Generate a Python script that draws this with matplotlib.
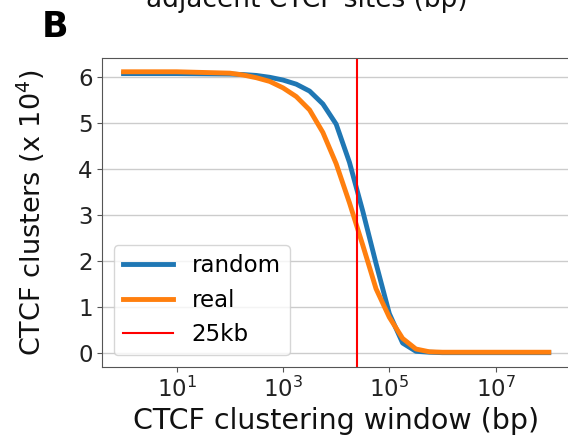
import matplotlib
matplotlib.use("Agg")
import matplotlib.pyplot as plt
from matplotlib.ticker import FixedLocator, NullLocator, LogFormatterMathtext

# clustering windows (bp), quarter-decade steps through the drop-off
window_bp = [1, 10, 100, 178, 316, 562,
             1000, 1778, 3162, 5623,
             10000, 17783, 31623, 56234,
             100000, 177828, 316228, 562341,
             1e6, 1e7, 1e8]

# number of clusters, in units of 10^4
random_clusters = [6.08, 6.08, 6.07, 6.06, 6.04, 6.00,
                   5.94, 5.85, 5.70, 5.42,
                   4.98, 4.15, 3.09, 1.95,
                   0.86, 0.22, 0.04, 0.02,
                   0.01, 0.01, 0.01]
real_clusters = [6.12, 6.12, 6.09, 6.05, 5.99, 5.91,
                 5.77, 5.58, 5.29, 4.80,
                 4.12, 3.27, 2.35, 1.40,
                 0.78, 0.32, 0.09, 0.03,
                 0.02, 0.02, 0.02]

cutoff_bp = 25000
cutoff_label = "25kb"

fig = plt.figure(figsize=(5.68, 4.36), dpi=100)
ax = fig.add_axes([0.1801, 0.1589, 0.8235, 0.7087])

ax.plot(window_bp, random_clusters, color="#1f77b4", lw=3.5, label="random")
ax.plot(window_bp, real_clusters, color="#ff7f0e", lw=3.5, label="real")
ax.axvline(cutoff_bp, color="red", lw=1.5, label=cutoff_label)

ax.set_xscale("log")
ax.xaxis.set_major_locator(FixedLocator([1e1, 1e3, 1e5, 1e7]))
ax.xaxis.set_major_formatter(LogFormatterMathtext())
ax.xaxis.set_minor_locator(NullLocator())
ax.set_yticks([0, 1, 2, 3, 4, 5, 6])

ax.grid(axis="y", color="#cccccc", lw=1.0)
ax.set_axisbelow(True)
for side in ["left", "bottom", "top", "right"]:
    ax.spines[side].set_color("#555555")
ax.tick_params(labelsize=16.5, colors="#555555", labelcolor="#222222")

ax.set_xlabel("CTCF clustering window (bp)", fontsize=20.5, color="#111111")
ax.set_ylabel(r"CTCF clusters (x $10^4$)", fontsize=19.5, color="#111111",
              labelpad=22)

ax.legend(loc="lower left", fontsize=16.5, handlelength=2.2)

fig.text(0.5405, 0.985, "adjacent CTCF sites (bp)", ha="center", va="baseline",
         fontsize=19, color="#111111")
fig.text(0.073, 0.916, "B", ha="left", va="baseline", fontsize=25,
         fontweight="bold")

fig.savefig("out.png", dpi=100)
